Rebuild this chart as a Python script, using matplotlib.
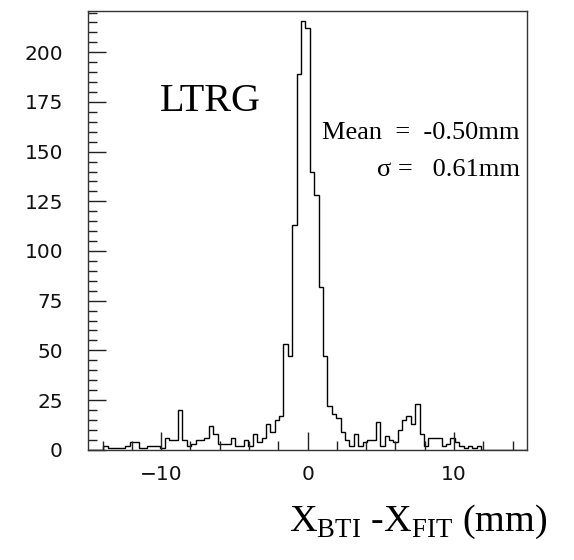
import numpy as np
import matplotlib
matplotlib.use("Agg")
import matplotlib.pyplot as plt
from matplotlib.ticker import MultipleLocator

plt.rcParams['mathtext.fontset'] = 'custom'
plt.rcParams['mathtext.rm'] = 'Liberation Serif'

# bin centres every 0.3 mm from -15 to 15
bin_width = 0.3
bin_index = np.arange(-50, 51)
counts = [
    0, 0, 0, 0, 2, 1, 1, 1, 1, 2,          # -50 .. -41
    4, 4, 1, 1, 2, 2, 2, 1, 6, 5,          # -40 .. -31
    5, 20, 5, 2, 3, 5, 5, 6, 12, 8,        # -30 .. -21
    3, 3, 3, 6, 2, 2, 5, 2, 8, 4,          # -20 .. -11
    6, 13, 9, 15, 17, 53, 47, 113, 189, 216,  # -10 .. -1
    212,                                   # 0
    140, 128, 82, 47, 22, 18, 16, 9, 5, 2,  # 1 .. 10
    8, 2, 4, 5, 5, 14, 2, 7, 5, 4,          # 11 .. 20
    10, 15, 17, 13, 23, 8, 2, 6, 6, 6,      # 21 .. 30
    2, 3, 6, 4, 2, 1, 2, 1, 2, 0,           # 31 .. 40
    0, 0, 0, 0, 0, 0, 0, 0, 0, 0,           # 41 .. 50
]
label = "LTRG"
mean_txt = "Mean  =  -0.50mm"
sigma_txt = "\u03c3 =   0.61mm"

edges = np.append(bin_index - 0.5, bin_index[-1] + 0.5) * bin_width

fig = plt.figure(figsize=(5.74, 5.60), dpi=100)
ax = fig.add_axes([0.1533, 0.197, 0.9186 - 0.1533, 0.9804 - 0.197])

ax.stairs(counts, edges, color='black', lw=1.0)

ax.set_xlim(-15, 15)
ax.set_ylim(0, 220.8)

ax.xaxis.set_major_locator(MultipleLocator(10))
ax.xaxis.set_minor_locator(MultipleLocator(2))
ax.yaxis.set_major_locator(MultipleLocator(25))
ax.yaxis.set_minor_locator(MultipleLocator(5))

ax.tick_params(which='both', direction='in', top=False, right=False, width=1.0, color='#222222')
ax.tick_params(which='major', length=13)
ax.tick_params(which='minor', length=6.5)
ax.tick_params(axis='y', which='major', pad=18, labelsize=14.5)
ax.tick_params(axis='x', which='major', pad=11, labelsize=14.5)
for lab in ax.get_xticklabels() + ax.get_yticklabels():
    lab.set_family('DejaVu Sans')
    lab.set_color('#111111')
for sp in ax.spines.values():
    sp.set_linewidth(1.0)
    sp.set_color('#333333')

fig.text(160 / 574, 1 - 111 / 560, label, family='Liberation Serif', fontsize=29,
         ha='left', va='baseline')
fig.text(520 / 574, 1 - 139 / 560, mean_txt, family='Liberation Serif', fontsize=19,
         ha='right', va='baseline')
fig.text(520 / 574, 1 - 176 / 560, sigma_txt, family='Liberation Serif', fontsize=19,
         ha='right', va='baseline')

fig.text(289 / 574, 1 - 531 / 560, r"X$_{\mathrm{BTI}}$ -X$_{\mathrm{FIT}}$ (mm)",
         family='Liberation Serif', fontsize=27.5, ha='left', va='baseline')

fig.savefig("out.png", dpi=100)
